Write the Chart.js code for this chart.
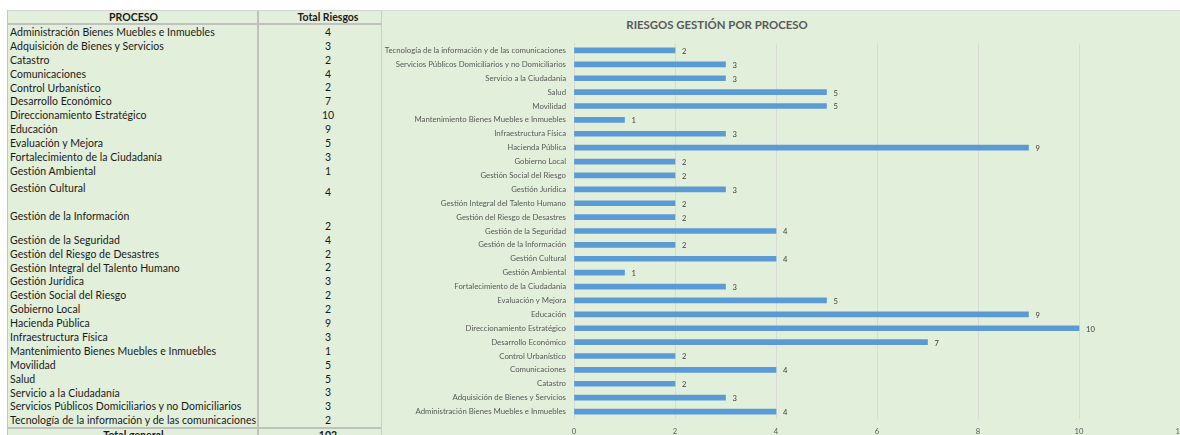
<!DOCTYPE html>
<html lang="es">
<head>
<meta charset="utf-8">
<title>Riesgos gestión por proceso</title>
<script src="https://cdn.jsdelivr.net/npm/chart.js@4.4.1/dist/chart.umd.min.js"></script>
<style>
  body {
    margin: 0;
    width: 1180px;
    height: 435px;
    overflow: hidden;
    position: relative;
    background: #ffffff;
    font-family: Lato, "Open Sans", sans-serif;
  }
  #tabla {
    position: absolute;
    left: 7px;
    top: 10px;
    width: 389px;
    height: 430px;
    background: #e2efda;
    border-left: 1px solid #c4c4c4;
    border-top: 1px solid #d4d4d4;
    font-size: 10.5px;
    color: #1a1a1a;
  }
  .fila {
    display: flex;
    box-sizing: border-box;
  }
  .fila .nombre {
    width: 251px;
    box-sizing: border-box;
    border-right: 2px solid #c0c0c0;
    padding-left: 2px;
    display: flex;
    align-items: center;
    white-space: nowrap;
    letter-spacing: 0.05px;
  }
  .fila .valor {
    flex: 1;
    display: flex;
    align-items: flex-end;
    justify-content: center;
    padding-bottom: 1px;
  }
  .fila.cabecera {
    border-bottom: 2px solid #c0c0c0;
    font-weight: bold;
  }
  .fila.cabecera .nombre { justify-content: center; }
  .fila.cabecera .valor { align-items: center; padding-bottom: 0; }
  .fila.total {
    border-top: 2px solid #c0c0c0;
    font-weight: bold;
  }
  .fila.total .nombre { justify-content: center; align-items: flex-start; }
  .fila.total .valor { align-items: flex-start; }
  #marco {
    position: absolute;
    left: 381px;
    top: 10px;
    width: 799px;
    height: 425px;
    background: #e2efda;
    border-left: 1px solid #cdcdcd;
    border-top: 1px solid #dcdcdc;
  }
  #titulo {
    position: absolute;
    left: 717px;
    top: 18px;
    transform: translateX(-50%);
    font-weight: bold;
    font-size: 11.4px;
    color: #595959;
    white-space: nowrap;
  }
  #lienzo {
    position: absolute;
    left: 382px;
    top: 10px;
    width: 830px;
    height: 425px;
  }
</style>
</head>
<body>

<div id="tabla"></div>
<div id="marco"></div>
<div id="titulo">RIESGOS GESTIÓN POR PROCESO</div>
<div id="lienzo"><canvas id="graficoRiesgos"></canvas></div>

<script>
const procesos = [
  "Administración Bienes Muebles e Inmuebles",
  "Adquisición de Bienes y Servicios",
  "Catastro",
  "Comunicaciones",
  "Control Urbanístico",
  "Desarrollo Económico",
  "Direccionamiento Estratégico",
  "Educación",
  "Evaluación y Mejora",
  "Fortalecimiento de la Ciudadanía",
  "Gestión Ambiental",
  "Gestión Cultural",
  "Gestión de la Información",
  "Gestión de la Seguridad",
  "Gestión del Riesgo de Desastres",
  "Gestión Integral del Talento Humano",
  "Gestión Jurídica",
  "Gestión Social del Riesgo",
  "Gobierno Local",
  "Hacienda Pública",
  "Infraestructura Física",
  "Mantenimiento Bienes Muebles e Inmuebles",
  "Movilidad",
  "Salud",
  "Servicio a la Ciudadanía",
  "Servicios Públicos Domiciliarios y no Domiciliarios",
  "Tecnología de la información y de las comunicaciones"
];

const totalRiesgos = [4, 3, 2, 4, 2, 7, 10, 9, 5, 3, 1, 4, 2, 4, 2, 2, 3, 2, 2, 9, 3, 1, 5, 5, 3, 3, 2];

const marcasEje = [0, 2, 4, 6, 8, 10, 12];

// alto de filas (estilo de la hoja)
const altoFila = 13.9;
const filasAltas = {
  "Gestión Cultural": 21,
  "Gestión de la Información": 34
};

function crearFila(clase, nombre, valor, alto) {
  const fila = document.createElement("div");
  fila.className = "fila " + clase;
  fila.style.height = alto + "px";
  const celdaNombre = document.createElement("div");
  celdaNombre.className = "nombre";
  celdaNombre.textContent = nombre;
  const celdaValor = document.createElement("div");
  celdaValor.className = "valor";
  celdaValor.textContent = valor;
  fila.appendChild(celdaNombre);
  fila.appendChild(celdaValor);
  return fila;
}

const tabla = document.getElementById("tabla");
tabla.appendChild(crearFila("cabecera", "PROCESO", "Total Riesgos", 14));
procesos.forEach((p, i) => {
  tabla.appendChild(crearFila("dato", p, totalRiesgos[i], filasAltas[p] || altoFila));
});
const totalGeneral = totalRiesgos.reduce((a, b) => a + b, 0);
tabla.appendChild(crearFila("total", "Total general", totalGeneral, 15));

const etiquetasValor = {
  id: "etiquetasValor",
  afterDatasetsDraw(chart) {
    const ctx = chart.ctx;
    const meta = chart.getDatasetMeta(0);
    ctx.save();
    ctx.font = "7.6px Lato";
    ctx.fillStyle = "#404040";
    ctx.textBaseline = "middle";
    meta.data.forEach((barra, i) => {
      ctx.fillText(chart.data.datasets[0].data[i], barra.x + 7, barra.y + 1);
    });
    ctx.restore();
  }
};

function dibujar() {

  const canvas = document.getElementById("graficoRiesgos");

  new Chart(canvas, {
    type: "bar",
    data: {
      labels: procesos,
      datasets: [{
        label: "Total Riesgos",
        data: totalRiesgos,
        backgroundColor: "#5b9bd5",
        borderWidth: 0,
        barThickness: 5
      }]
    },
    options: {
      indexAxis: "y",
      responsive: true,
      maintainAspectRatio: false,
      animation: false,
      layout: {
        padding: { top: 33.5, right: 32, left: 0, bottom: 0 }
      },
      plugins: {
        legend: { display: false },
        tooltip: { enabled: false },
        title: { display: false }
      },
      scales: {
        x: {
          min: marcasEje[0],
          max: marcasEje[marcasEje.length - 1],
          ticks: {
            stepSize: marcasEje[1] - marcasEje[0],
            color: "#595959",
            font: { family: "Lato", size: 7.6 },
            padding: 8
          },
          grid: { color: "#d9d9d9", drawTicks: false },
          border: { display: false },
          afterFit(scale) { scale.height = 16.5; }
        },
        y: {
          reverse: true,
          ticks: {
            autoSkip: false,
            color: "#595959",
            font: { family: "Lato", size: 7.8 },
            padding: 8
          },
          grid: { display: false, drawTicks: false },
          border: { display: false },
          afterFit(scale) { scale.width = 192; }
        }
      }
    },
    plugins: [etiquetasValor]
  });

}

document.fonts.load("10px Lato").then(dibujar, dibujar);
</script>
</body>
</html>
